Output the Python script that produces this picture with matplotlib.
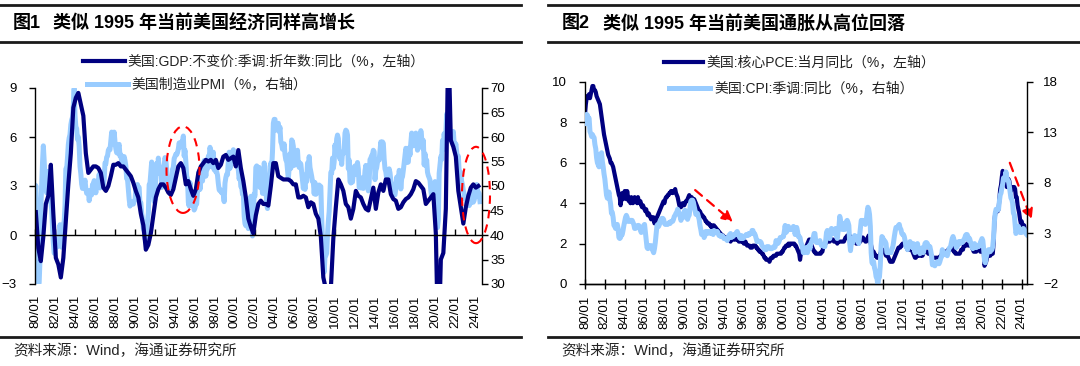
import numpy as np
import pandas as pd
import matplotlib
matplotlib.use("Agg")
import matplotlib.pyplot as plt
from matplotlib.lines import Line2D
from matplotlib.patches import Ellipse

# ---------------- data ----------------
# US real GDP YoY (%), quarterly 1980Q1 - 2024Q2
gdp_yoy = [
    1.4, -0.8, -1.6, -0.1,  1.9, 2.4, 4.3, 1.3,  -1.4, -1.8, -2.6, -1.4,  0.9, 3.1, 5.0, 7.8,
    8.4, 8.7, 8.0, 7.3,  5.0, 3.8, 4.0, 4.2,  4.2, 4.1, 3.8, 2.9,  2.7, 3.0, 3.6, 4.3,
    4.3, 4.4, 4.2, 4.2,  4.0, 3.8, 3.6, 3.2,  2.7, 2.3, 1.3, 0.6,  -0.9, -0.6, 0.1, 1.2,
    2.3, 2.8, 3.1, 3.1,  2.9, 2.6, 2.45, 2.8,  3.5, 4.2, 4.4, 4.1,  3.1, 3.3, 2.8, 2.4,
    2.8, 3.8, 4.2, 4.4,  4.6, 4.5, 4.6, 4.4,  4.6, 4.1, 4.3, 4.8,  4.9, 4.6, 4.7, 4.8,
    4.2, 5.2, 4.1, 3.3,  2.3, 1.0, 0.5, 0.1,  1.2, 1.9, 2.1, 1.9,  1.9, 1.8, 3.0, 4.4,
    4.4, 3.6, 3.5, 3.4,  3.4, 3.4, 3.3, 3.1,  3.1, 2.3, 2.3, 2.4,  2.3, 1.7, 2.0, 1.9,
    1.3, 1.0, -0.1, -2.6,  -3.3, -3.9, -3.3, -0.2,  1.7, 3.4, 3.1, 2.7,  1.9, 1.7, 1.0, 1.6,
    2.7, 2.4, 2.3, 1.9,  1.6, 1.5, 2.2, 2.9,  1.6, 2.6, 3.1, 2.7,  3.4, 3.4, 2.5, 2.2,
    2.1, 1.6, 1.7, 2.0,  2.2, 2.3, 2.5, 2.8,  3.3, 3.2, 3.0, 2.8,  1.9, 2.1, 2.3, 2.5,
    0.1, -7.5, -1.5, -1.1,  1.6, 12.2, 5.8, 5.4,  4.8, 2.7, 1.7, 0.7,  1.7, 2.4, 2.9, 3.1,
    2.9, 3.0,
]

# ISM manufacturing PMI, monthly 1980-01 - 2024-07
ism_pmi = [
    47.6, 50.1, 43.6, 37.4, 29.4, 30.3, 35.0, 45.5, 50.1, 54.7, 58.2, 55.2,
    51.6, 49.7, 48.6, 51.0, 53.0, 49.6, 49.8, 46.6, 45.3, 41.6, 38.4, 36.3,
    36.2, 39.1, 37.8, 37.6, 38.3, 38.0, 42.1, 40.1, 37.5, 40.4, 42.0, 42.8,
    46.0, 53.5, 53.5, 55.8, 58.5, 59.8, 60.5, 62.5, 63.5, 64.0, 66.5, 69.9,
    64.5, 62.1, 61.7, 59.5, 60.0, 58.1, 54.0, 52.5, 50.4, 49.5, 49.7, 50.3,
    51.2, 49.5, 48.5, 49.0, 49.0, 47.0, 48.1, 49.1, 48.2, 50.3, 50.4, 51.1,
    50.5, 48.6, 50.7, 51.0, 50.5, 52.4, 49.6, 51.1, 51.1, 50.8, 50.1, 51.4,
    54.7, 54.5, 55.9, 56.1, 57.3, 57.6, 57.4, 59.2, 61.0, 60.0, 58.6, 61.0,
    59.0, 57.6, 56.8, 56.7, 58.0, 58.5, 56.1, 56.4, 55.0, 54.5, 55.6, 56.0,
    55.2, 54.1, 51.5, 51.4, 49.3, 47.3, 45.9, 46.5, 46.7, 46.6, 46.3, 46.9,
    47.1, 49.3, 49.7, 50.3, 49.5, 49.7, 46.2, 46.6, 44.5, 43.2, 41.3, 40.8,
    39.2, 39.4, 40.7, 42.8, 44.5, 50.3, 50.6, 52.9, 54.9, 53.1, 49.5, 46.8,
    47.3, 52.7, 54.6, 52.6, 55.7, 53.6, 53.9, 53.4, 49.7, 50.6, 53.6, 54.2,
    55.8, 55.2, 53.5, 50.2, 51.2, 49.6, 50.2, 50.7, 50.8, 53.4, 53.8, 55.6,
    56.0, 56.5, 56.4, 56.8, 57.6, 58.8, 58.1, 58.0, 59.0, 59.0, 60.2, 56.1,
    57.3, 55.0, 52.0, 51.5, 46.7, 45.9, 50.7, 46.7, 48.1, 46.1, 46.0, 45.1,
    45.5, 46.5, 46.3, 49.0, 49.2, 53.1, 49.3, 51.9, 52.0, 51.0, 52.7, 55.2,
    53.8, 52.0, 53.8, 53.5, 56.1, 55.6, 57.9, 56.8, 53.9, 55.6, 56.9, 53.3,
    53.8, 52.9, 52.9, 52.2, 50.5, 49.2, 49.0, 49.2, 48.6, 48.7, 48.2, 46.8,
    50.6, 51.7, 52.4, 52.3, 55.2, 56.9, 53.6, 55.2, 56.9, 56.4, 57.4, 56.9,
    56.7, 55.8, 54.9, 54.7, 53.2, 51.4, 52.5, 49.9, 49.9, 48.3, 48.5, 43.9,
    42.3, 41.9, 43.1, 43.2, 41.3, 43.6, 43.6, 47.9, 46.2, 39.8, 44.5, 48.4,
    48.0, 53.8, 54.1, 53.9, 53.1, 53.8, 49.7, 50.4, 50.5, 48.5, 48.5, 54.7,
    53.9, 50.5, 46.2, 45.4, 49.4, 49.0, 51.0, 54.7, 53.7, 57.0, 62.8, 63.6,
    63.6, 61.4, 62.5, 62.4, 62.8, 61.1, 62.0, 59.0, 58.5, 57.5, 57.8, 58.6,
    56.4, 55.3, 55.2, 53.3, 51.4, 53.8, 56.6, 53.6, 59.4, 59.1, 58.1, 54.2,
    54.8, 56.7, 55.2, 57.3, 54.4, 53.8, 54.7, 54.5, 52.9, 51.2, 49.5, 51.4,
    49.3, 52.3, 50.9, 54.7, 52.9, 56.0, 53.8, 52.9, 52.0, 50.9, 50.8, 48.4,
    50.7, 48.3, 48.6, 48.6, 49.6, 50.2, 50.0, 49.9, 43.5, 38.9, 36.2, 32.4,
    35.6, 35.8, 36.3, 40.1, 42.8, 44.8, 48.9, 52.8, 52.6, 55.7, 53.6, 54.9,
    58.4, 56.5, 59.6, 60.4, 59.7, 56.2, 55.5, 56.3, 54.4, 56.9, 56.6, 57.5,
    60.8, 61.4, 61.2, 60.4, 53.5, 55.3, 50.9, 50.6, 51.6, 50.8, 52.7, 53.9,
    54.1, 52.4, 53.4, 54.8, 53.5, 49.7, 49.8, 49.6, 51.5, 51.7, 49.5, 50.7,
    53.1, 54.2, 51.3, 50.7, 49.0, 50.9, 55.4, 55.7, 56.2, 56.4, 57.3, 57.0,
    51.3, 53.2, 53.7, 54.9, 55.4, 55.3, 57.1, 59.0, 56.6, 59.0, 58.7, 55.5,
    53.5, 52.9, 51.5, 51.5, 52.8, 53.5, 52.7, 51.1, 50.2, 50.1, 48.6, 48.2,
    48.2, 49.5, 51.8, 50.8, 51.3, 53.2, 52.6, 49.4, 51.5, 51.9, 53.2, 54.7,
    56.0, 57.7, 57.2, 54.8, 54.9, 57.8, 56.3, 58.8, 60.8, 58.7, 58.2, 59.7,
    59.1, 60.8, 59.3, 57.3, 58.7, 60.2, 58.1, 61.3, 59.8, 57.7, 59.3, 54.3,
    56.6, 54.2, 55.3, 52.8, 52.1, 51.7, 51.2, 49.1, 47.8, 48.3, 48.1, 47.2,
    50.9, 50.1, 49.1, 41.5, 43.1, 52.6, 54.2, 56.0, 55.4, 59.3, 57.5, 60.7,
    58.7, 60.8, 64.7, 60.7, 61.2, 60.6, 59.5, 59.9, 61.1, 60.8, 61.1, 58.7,
    57.6, 58.6, 57.1, 55.4, 56.1, 53.0, 52.8, 52.8, 50.9, 50.2, 49.0, 48.4,
    47.4, 47.7, 46.3, 47.1, 46.9, 46.0, 46.4, 47.6, 49.0, 46.7, 46.7, 47.1,
    49.1, 47.8, 50.3, 49.2, 48.7, 48.5, 46.8,
]

# US core PCE YoY (%), monthly 1980-01 - 2024-07
core_pce = [
    8.4, 8.9, 9.2, 9.3, 9.3, 9.4, 9.2, 9.4, 9.6, 9.8, 9.8, 9.6,
    9.6, 9.5, 9.3, 9.2, 9.1, 9.0, 8.9, 8.6, 8.3, 8.0, 7.7, 7.4,
    7.2, 7.0, 6.8, 6.6, 6.4, 6.3, 6.2, 6.0, 6.0, 5.9, 5.8, 5.6,
    5.4, 5.2, 5.0, 4.8, 4.6, 4.4, 4.3, 3.9, 4.2, 4.5, 4.2, 4.4,
    4.6, 4.4, 4.2, 4.6, 4.3, 4.1, 4.2, 4.0, 4.3, 4.2, 4.0, 4.1,
    4.3, 4.2, 4.1, 4.0, 4.3, 4.1, 4.0, 4.1, 3.9, 3.8, 3.9, 3.8,
    3.7, 3.6, 3.7, 3.5, 3.4, 3.5, 3.4, 3.3, 3.2, 3.3, 3.2, 3.3,
    3.0, 3.1, 3.2, 3.3, 3.4, 3.5, 3.6, 3.7, 3.8, 3.9, 4.0, 4.1,
    4.0, 4.2, 4.3, 4.3, 4.4, 4.4, 4.5, 4.5, 4.6, 4.6, 4.5, 4.6,
    4.6, 4.7, 4.5, 4.4, 4.3, 4.1, 3.9, 3.8, 3.8, 3.9, 4.0, 3.9,
    3.9, 4.0, 4.1, 4.1, 4.2, 4.3, 4.4, 4.3, 4.2, 4.3, 4.2, 4.1,
    4.2, 4.1, 4.0, 3.9, 3.8, 3.7, 3.6, 3.6, 3.5, 3.4, 3.4, 3.3,
    3.3, 3.2, 3.1, 3.1, 3.0, 3.0, 3.0, 2.9, 2.9, 2.8, 2.9, 2.8,
    2.9, 2.8, 2.8, 2.7, 2.7, 2.6, 2.6, 2.5, 2.5, 2.4, 2.4, 2.4,
    2.3, 2.3, 2.3, 2.3, 2.2, 2.2, 2.2, 2.2, 2.1, 2.2, 2.2, 2.2,
    2.2, 2.3, 2.2, 2.2, 2.2, 2.2, 2.1, 2.1, 2.1, 2.1, 2.1, 2.1,
    2.0, 2.0, 2.1, 2.0, 1.9, 1.9, 1.9, 1.9, 1.8, 1.8, 1.8, 1.9,
    1.9, 1.9, 1.9, 1.8, 1.8, 1.7, 1.7, 1.6, 1.6, 1.6, 1.5, 1.5,
    1.4, 1.3, 1.3, 1.2, 1.2, 1.2, 1.2, 1.1, 1.2, 1.3, 1.3, 1.3,
    1.4, 1.4, 1.4, 1.4, 1.5, 1.5, 1.5, 1.5, 1.5, 1.5, 1.6, 1.6,
    1.7, 1.8, 1.8, 1.9, 1.9, 1.9, 2.0, 1.9, 2.0, 2.0, 2.0, 2.0,
    2.0, 2.0, 1.9, 1.9, 1.8, 1.7, 1.6, 1.5, 1.2, 1.5, 1.6, 1.7,
    1.7, 1.7, 1.8, 1.8, 1.9, 2.0, 2.1, 2.2, 2.2, 2.0, 1.9, 1.8,
    1.7, 1.6, 1.6, 1.5, 1.5, 1.5, 1.5, 1.5, 1.5, 1.5, 1.6, 1.6,
    1.8, 1.9, 2.0, 2.0, 2.1, 2.2, 2.1, 2.1, 2.1, 2.2, 2.2, 2.2,
    2.2, 2.1, 2.1, 2.1, 2.1, 2.0, 2.1, 2.1, 2.1, 2.1, 2.1, 2.1,
    2.1, 2.1, 2.2, 2.3, 2.3, 2.4, 2.4, 2.4, 2.4, 2.3, 2.3, 2.3,
    2.3, 2.3, 2.2, 2.1, 2.0, 2.0, 2.0, 2.0, 2.1, 2.1, 2.2, 2.3,
    2.3, 2.2, 2.2, 2.1, 2.1, 2.2, 2.3, 2.4, 2.3, 2.1, 1.9, 1.7,
    1.6, 1.6, 1.5, 1.4, 1.4, 1.3, 1.3, 1.3, 1.4, 1.5, 1.6, 1.7,
    1.7, 1.6, 1.6, 1.5, 1.4, 1.4, 1.4, 1.3, 1.2, 1.1, 1.1, 1.1,
    1.1, 1.2, 1.3, 1.4, 1.5, 1.6, 1.7, 1.8, 1.8, 1.8, 1.9, 1.9,
    2.0, 2.0, 2.0, 2.0, 1.9, 1.8, 1.7, 1.7, 1.7, 1.7, 1.7, 1.7,
    1.6, 1.5, 1.4, 1.3, 1.3, 1.4, 1.4, 1.4, 1.4, 1.4, 1.4, 1.5,
    1.4, 1.5, 1.6, 1.6, 1.6, 1.6, 1.6, 1.5, 1.5, 1.5, 1.5, 1.4,
    1.3, 1.3, 1.3, 1.3, 1.3, 1.3, 1.3, 1.3, 1.3, 1.3, 1.4, 1.4,
    1.6, 1.6, 1.6, 1.6, 1.6, 1.6, 1.6, 1.7, 1.7, 1.7, 1.7, 1.8,
    1.8, 1.8, 1.6, 1.6, 1.5, 1.5, 1.5, 1.5, 1.5, 1.5, 1.6, 1.7,
    1.7, 1.7, 1.9, 1.9, 1.9, 1.9, 2.0, 2.0, 1.9, 1.9, 1.9, 2.0,
    1.8, 1.7, 1.6, 1.6, 1.6, 1.6, 1.7, 1.8, 1.7, 1.7, 1.6, 1.6,
    1.7, 1.8, 1.7, 0.9, 1.0, 1.1, 1.3, 1.4, 1.5, 1.4, 1.4, 1.5,
    1.5, 1.5, 2.0, 3.1, 3.5, 3.6, 3.6, 3.6, 3.7, 4.2, 4.7, 4.9,
    5.3, 5.6, 5.5, 5.2, 5.0, 5.0, 4.8, 4.9, 5.2, 5.1, 4.8, 4.6,
    4.7, 4.8, 4.8, 4.8, 4.7, 4.3, 4.3, 3.9, 3.7, 3.5, 3.2, 3.0,
    3.1, 2.9, 2.9, 2.9, 2.6, 2.6, 2.6,
]

# US CPI (SA) YoY (%), monthly 1980-01 - 2024-07
cpi_yoy = [
    13.9, 14.2, 14.8, 14.7, 14.4, 14.4, 13.1, 12.9, 12.6, 12.8, 12.6, 12.5,
    11.8, 11.4, 10.5, 10.0, 9.8, 9.6, 10.8, 10.8, 11.0, 10.1, 9.6, 8.9,
    8.4, 7.6, 6.8, 6.5, 6.7, 7.1, 6.4, 5.9, 5.0, 5.1, 4.6, 3.8,
    3.7, 3.5, 3.6, 3.9, 3.5, 2.6, 2.5, 2.6, 2.9, 2.9, 3.3, 3.8,
    4.2, 4.6, 4.8, 4.6, 4.2, 4.2, 4.2, 4.3, 4.3, 4.3, 4.1, 3.9,
    3.5, 3.5, 3.7, 3.7, 3.8, 3.8, 3.6, 3.3, 3.1, 3.2, 3.5, 3.8,
    3.9, 3.1, 2.2, 1.6, 1.5, 1.8, 1.6, 1.6, 1.8, 1.5, 1.3, 1.1,
    1.5, 2.1, 3.0, 3.8, 3.9, 3.7, 3.9, 4.3, 4.4, 4.5, 4.5, 4.4,
    4.0, 3.9, 3.9, 3.9, 3.9, 4.0, 4.1, 4.0, 4.2, 4.2, 4.2, 4.4,
    4.7, 4.8, 5.0, 5.1, 5.4, 5.2, 5.0, 4.7, 4.3, 4.5, 4.7, 4.6,
    5.2, 5.3, 5.2, 4.7, 4.4, 4.7, 4.8, 5.6, 6.2, 6.3, 6.3, 6.1,
    5.7, 5.3, 4.9, 4.9, 5.0, 4.7, 4.4, 3.8, 3.4, 2.9, 3.0, 3.1,
    2.6, 2.8, 3.2, 3.2, 3.0, 3.1, 3.2, 3.1, 3.0, 3.2, 3.0, 2.9,
    3.3, 3.2, 3.1, 3.2, 3.2, 3.0, 2.8, 2.8, 2.7, 2.8, 2.7, 2.7,
    2.5, 2.5, 2.5, 2.4, 2.3, 2.5, 2.8, 2.9, 3.0, 2.6, 2.7, 2.7,
    2.8, 2.9, 2.9, 3.1, 3.2, 3.0, 2.8, 2.6, 2.5, 2.8, 2.6, 2.5,
    2.7, 2.7, 2.8, 2.9, 2.9, 2.8, 3.0, 2.9, 3.0, 3.0, 3.3, 3.3,
    3.0, 3.0, 2.8, 2.5, 2.2, 2.3, 2.2, 2.2, 2.2, 2.1, 1.8, 1.7,
    1.6, 1.4, 1.4, 1.4, 1.7, 1.7, 1.7, 1.6, 1.5, 1.5, 1.5, 1.6,
    1.7, 1.6, 1.7, 2.3, 2.1, 2.0, 2.1, 2.3, 2.6, 2.6, 2.6, 2.7,
    2.7, 3.2, 3.8, 3.1, 3.2, 3.7, 3.7, 3.4, 3.5, 3.4, 3.4, 3.4,
    3.7, 3.5, 2.9, 3.3, 3.6, 3.2, 2.7, 2.7, 2.6, 2.1, 1.9, 1.6,
    1.1, 1.1, 1.5, 1.6, 1.2, 1.1, 1.5, 1.8, 1.5, 2.0, 2.2, 2.4,
    2.6, 3.0, 3.0, 2.2, 2.1, 2.1, 2.1, 2.2, 2.3, 2.0, 1.8, 1.9,
    1.9, 1.7, 1.7, 2.3, 3.1, 3.3, 3.0, 2.7, 2.5, 3.2, 3.5, 3.3,
    3.0, 3.0, 3.1, 3.5, 2.8, 2.5, 3.2, 3.6, 4.7, 4.3, 3.5, 3.4,
    4.0, 3.6, 3.4, 3.5, 4.2, 4.3, 4.1, 3.8, 2.1, 1.3, 2.0, 2.5,
    2.1, 2.4, 2.8, 2.6, 2.7, 2.7, 2.4, 2.0, 2.8, 3.5, 4.3, 4.1,
    4.3, 4.0, 4.0, 3.9, 4.2, 5.0, 5.6, 5.4, 4.9, 3.7, 1.1, 0.1,
    0.0, 0.2, -0.4, -0.7, -1.3, -1.4, -2.1, -1.5, -1.3, -0.2, 1.8, 2.7,
    2.6, 2.1, 2.3, 2.2, 2.0, 1.1, 1.2, 1.1, 1.1, 1.2, 1.1, 1.5,
    1.6, 2.1, 2.7, 3.2, 3.6, 3.6, 3.6, 3.8, 3.9, 3.5, 3.4, 3.0,
    2.9, 2.9, 2.7, 2.3, 1.7, 1.7, 1.4, 1.7, 2.0, 2.2, 1.8, 1.7,
    1.6, 2.0, 1.5, 1.1, 1.4, 1.8, 2.0, 1.5, 1.2, 1.0, 1.2, 1.5,
    1.6, 1.1, 1.5, 2.0, 2.1, 2.1, 2.0, 1.7, 1.7, 1.7, 1.3, 0.8,
    -0.1, 0.0, -0.1, -0.2, 0.0, 0.1, 0.2, 0.2, 0.0, 0.2, 0.5, 0.7,
    1.4, 1.0, 0.9, 1.1, 1.0, 1.0, 0.8, 1.1, 1.5, 1.6, 1.7, 2.1,
    2.5, 2.7, 2.4, 2.2, 1.9, 1.6, 1.7, 1.9, 2.2, 2.0, 2.2, 2.1,
    2.1, 2.2, 2.4, 2.5, 2.8, 2.9, 2.9, 2.7, 2.3, 2.5, 2.2, 1.9,
    1.6, 1.5, 1.9, 2.0, 1.8, 1.6, 1.8, 1.7, 1.7, 1.8, 2.1, 2.3,
    2.5, 2.3, 1.5, 0.3, 0.1, 0.6, 1.0, 1.3, 1.4, 1.2, 1.2, 1.4,
    1.4, 1.7, 2.6, 4.2, 5.0, 5.4, 5.4, 5.3, 5.4, 6.2, 6.8, 7.0,
    7.5, 7.9, 8.5, 8.3, 8.6, 9.1, 8.5, 8.3, 8.2, 7.7, 7.1, 6.5,
    6.4, 6.0, 5.0, 4.9, 4.0, 3.0, 3.2, 3.7, 3.7, 3.2, 3.1, 3.4,
    3.1, 3.2, 3.5, 3.4, 3.3, 3.0, 2.9,
]

tick_years = list(range(1980, 2025, 2))
tick_labels = [f"{y % 100:02d}/01" for y in tick_years]

title_left = ["图1", "类似 1995 年当前美国经济同样高增长"]
title_right = ["图2", "类似 1995 年当前美国通胀从高位回落"]
legend_left = ["美国:GDP:不变价:季调:折年数:同比（%，左轴）", "美国制造业PMI（%，右轴）"]
legend_right = ["美国:核心PCE:当月同比（%，左轴）", "美国:CPI:季调:同比（%，右轴）"]
source_text = "资料来源：Wind，海通证券研究所"

# ---------------- style ----------------
DARK = "#000080"
LIGHT = "#99CCFF"
LW_DARK = 3.0
LW_LIGHT = 3.6
W, H = 1080, 366
CJK = ["Liberation Sans", "Noto Sans CJK SC", "DejaVu Sans"]
plt.rcParams["font.family"] = CJK
TICK_FS = 9.5

def rect(x0, y0, x1, y1):
    return [x0 / W, 1 - y1 / H, (x1 - x0) / W, (y1 - y0) / H]

def fx(px):
    return px / W

def fy(py):
    return 1 - py / H

months = pd.period_range("1980-01", periods=len(ism_pmi), freq="M")
mx = months.year + (months.month - 1) / 12.0
quarters = pd.period_range("1980Q1", periods=len(gdp_yoy), freq="Q")
qx = quarters.year + (3 * quarters.quarter - 2) / 12.0
mx2 = pd.period_range("1980-01", periods=len(core_pce), freq="M")
mx2 = mx2.year + (mx2.month - 1) / 12.0

fig = plt.figure(figsize=(W / 100, H / 100), dpi=100)
fig.patch.set_facecolor("white")

# ---------------- left chart ----------------
axL = fig.add_axes(rect(35, 88, 481.7, 284))
axLr = axL.twinx()
axL.set_zorder(axLr.get_zorder() + 1)
axL.patch.set_visible(False)

axLr.plot(mx, ism_pmi, color=LIGHT, lw=LW_LIGHT, solid_joinstyle="round")
axL.plot(qx, gdp_yoy, color=DARK, lw=LW_DARK, solid_joinstyle="round")

axL.set_xlim(1980, 1980 + 446.7 / 10)
axL.set_ylim(-3, 9)
axL.set_yticks([-3, 0, 3, 6, 9])
axLr.set_ylim(30, 70)
axLr.set_yticks(range(30, 71, 5))

for a in (axL, axLr):
    a.spines["top"].set_visible(False)
axL.spines["right"].set_visible(False)
axLr.spines["left"].set_visible(False)
axLr.spines["bottom"].set_visible(False)
axL.spines["bottom"].set_position(("data", 0))
axL.set_xticks(tick_years)
axL.tick_params(axis="x", direction="in", length=4, width=1, labelbottom=False)
axL.tick_params(axis="y", direction="out", length=4, width=1, pad=9, labelsize=TICK_FS)
axLr.tick_params(axis="y", direction="out", length=4, width=1, pad=2, labelsize=TICK_FS)
secL = axL.secondary_xaxis(0)
secL.set_xticks(tick_years)
secL.set_xticklabels(tick_labels, rotation=90, fontsize=TICK_FS)
secL.tick_params(length=0, pad=8)
secL.spines["bottom"].set_visible(False)
for a in (axL, axLr):
    for s in a.spines.values():
        s.set_linewidth(1.0)
        s.set_color("#000000")

axL.add_patch(Ellipse((1994.8, 4.0), 3.3, 5.3, fill=False, ec="red", lw=1.5,
                      ls=(0, (4, 3)), clip_on=False, zorder=5))
axL.add_patch(Ellipse((2024.1, 2.45), 2.8, 5.9, fill=False, ec="red", lw=1.5,
                      ls=(0, (4, 3)), clip_on=False, zorder=5))

# ---------------- right chart ----------------
axR = fig.add_axes(rect(585, 82, 1026.7, 284))
axRr = axR.twinx()
axR.plot(mx2, core_pce, color=DARK, lw=LW_DARK, solid_joinstyle="round")
axRr.plot(mx2, cpi_yoy, color=LIGHT, lw=LW_LIGHT, solid_joinstyle="round")
axR.set_xlim(1980, 1980 + 441.7 / 9.925)
axR.set_ylim(0, 10)
axR.set_yticks(range(0, 11, 2))
axRr.set_ylim(-2, 18)
axRr.set_yticks([-2, 3, 8, 13, 18])
for a in (axR, axRr):
    a.spines["top"].set_visible(False)
    for s in a.spines.values():
        s.set_linewidth(1.0)
        s.set_color("#000000")
axR.spines["right"].set_visible(False)
axRr.spines["left"].set_visible(False)
axR.set_xticks(tick_years)
axR.set_xticklabels(tick_labels, rotation=90, fontsize=TICK_FS)
axR.tick_params(axis="x", direction="inout", length=7, width=1, pad=5)
axR.tick_params(axis="y", direction="out", length=4, width=1, pad=9, labelsize=TICK_FS)
axRr.tick_params(axis="y", direction="out", length=4, width=1, pad=8, labelsize=TICK_FS)

arrow_kw = dict(arrowstyle="-|>", color="red", lw=1.6, ls=(0, (4, 3)),
                mutation_scale=16, shrinkA=0, shrinkB=0)
axR.annotate("", xy=(1994.9, 3.07), xytext=(1991.1, 4.65), arrowprops=arrow_kw,
             annotation_clip=False, zorder=6)
axR.annotate("", xy=(2025.0, 3.17), xytext=(2022.8, 6.0), arrowprops=arrow_kw,
             annotation_clip=False, zorder=6)

# ---------------- frame, titles, legends, sources ----------------
def hline(x0, x1, py, lw=2.0):
    fig.add_artist(Line2D([fx(x0), fx(x1)], [fy(py), fy(py)], color="#1a1a1a",
                          lw=lw, transform=fig.transFigure))

for x0, x1 in ((0, 521), (548, 1080)):
    hline(x0, x1, 5)
    hline(x0, x1, 42)
    hline(x0, x1, 337)

TITLE_FS = 13
fig.text(fx(13), fy(24), title_left[0], fontsize=TITLE_FS, fontweight="bold", va="center")
fig.text(fx(53), fy(24), title_left[1], fontsize=TITLE_FS, fontweight="bold", va="center")
fig.text(fx(562), fy(24), title_right[0], fontsize=TITLE_FS, fontweight="bold", va="center")
fig.text(fx(603), fy(24), title_right[1], fontsize=TITLE_FS, fontweight="bold", va="center")

LEG_FS = 10
def legend_entry(x0, x1, py, tx, color, lw, label):
    fig.add_artist(Line2D([fx(x0), fx(x1)], [fy(py), fy(py)], color=color, lw=lw,
                          transform=fig.transFigure))
    fig.text(fx(tx), fy(py), label, fontsize=LEG_FS, va="center", color="#222222")

legend_entry(83, 125, 61, 127, DARK, LW_DARK, legend_left[0])
legend_entry(87, 128, 84, 131, LIGHT, LW_LIGHT, legend_left[1])
legend_entry(664, 703, 62, 706, DARK, LW_DARK, legend_right[0])
legend_entry(669, 710, 88, 714, LIGHT, LW_LIGHT, legend_right[1])

fig.text(fx(13), fy(351), source_text, fontsize=10.5, va="center", color="#222222")
fig.text(fx(561), fy(351), source_text, fontsize=10.5, va="center", color="#222222")

fig.savefig("out.png", dpi=100, facecolor="white")
